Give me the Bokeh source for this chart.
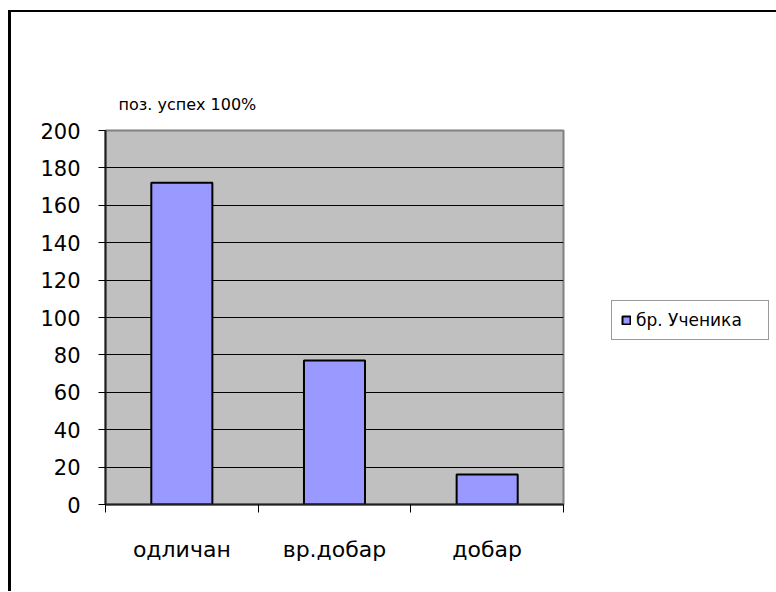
from bokeh.plotting import figure
from bokeh.models import Range1d, FixedTicker, Legend, LegendItem, ColumnDataSource
from bokeh.embed import file_html
from bokeh.resources import INLINE

categories = ["одличан", "вр.добар", "добар"]
values = [172, 77, 16]
series_name = "бр. Ученика"
title_text = "поз. успех 100%"
y_ticks = [0, 20, 40, 60, 80, 100, 120, 140, 160, 180, 200]

FONT = "DejaVu Sans"

xs = [i + 0.5 for i in range(len(categories))]
src = ColumnDataSource(dict(x=xs, top=values))

p = figure(frame_width=458, frame_height=374,
           min_border_left=94, min_border_right=212,
           min_border_top=118, min_border_bottom=87,
           x_range=Range1d(0, len(categories)), y_range=Range1d(y_ticks[0], y_ticks[-1]),
           output_backend="svg", toolbar_location=None,
           background_fill_color="#C0C0C0", border_fill_color="white",
           styles={"border-top": "2px solid black", "border-left": "3px solid black",
                   "margin-top": "10px", "margin-left": "8px"})

p.title.text = title_text
p.title.text_font = FONT
p.title.text_font_size = "16px"
p.title.text_font_style = "normal"
p.title.text_color = "black"
p.title.align = "left"
p.title.offset = 13
p.title.standoff = 34

r = p.vbar(x="x", top="top", width=0.4, bottom=0, source=src,
           fill_color="#9999FF", line_color="black", line_width=2)

# y axis
p.yaxis.ticker = FixedTicker(ticks=y_ticks)
p.yaxis.major_label_text_font = FONT
p.yaxis.major_label_text_font_size = "21px"
p.yaxis.major_label_text_color = "black"
p.yaxis.major_tick_out = 7
p.yaxis.major_tick_in = 0
p.yaxis.minor_tick_line_color = None
p.yaxis.major_tick_line_color = "black"
p.yaxis.axis_line_color = "#202020"
p.yaxis.axis_line_width = 2
p.yaxis.major_label_standoff = 18

# x axis: labels at centres, ticks at category boundaries
p.xaxis.ticker = FixedTicker(ticks=xs, minor_ticks=list(range(len(categories) + 1)))
p.xaxis.major_label_overrides = {x: c for x, c in zip(xs, categories)}
p.xaxis.major_label_text_font = FONT
p.xaxis.major_label_text_font_size = "22px"
p.xaxis.major_label_text_color = "black"
p.xaxis.major_tick_line_color = None
p.xaxis.major_tick_out = 0
p.xaxis.major_tick_in = 0
p.xaxis.minor_tick_line_color = "black"
p.xaxis.minor_tick_out = 8
p.xaxis.minor_tick_in = 0
p.xaxis.axis_line_color = "#202020"
p.xaxis.axis_line_width = 2
p.xaxis.major_label_standoff = 24

p.xgrid.grid_line_color = None
p.ygrid.ticker = FixedTicker(ticks=y_ticks[1:-1])
p.ygrid.grid_line_color = "black"
p.ygrid.grid_line_width = 1

p.outline_line_color = "#808080"
p.outline_line_width = 2

legend = Legend(items=[LegendItem(label=series_name, renderers=[r])],
                location=(48, 164))
legend.label_text_font = FONT
legend.label_text_font_size = "17px"
legend.label_text_color = "black"
legend.glyph_width = 10
legend.glyph_height = 10
legend.label_standoff = 5
legend.padding = 9
legend.margin = 0
legend.label_width = 123
legend.border_line_color = "#333333"
legend.border_line_width = 1
legend.background_fill_color = "white"
legend.background_fill_alpha = 1
p.add_layout(legend, "right")

open("out.html", "w").write(file_html(p, INLINE))
